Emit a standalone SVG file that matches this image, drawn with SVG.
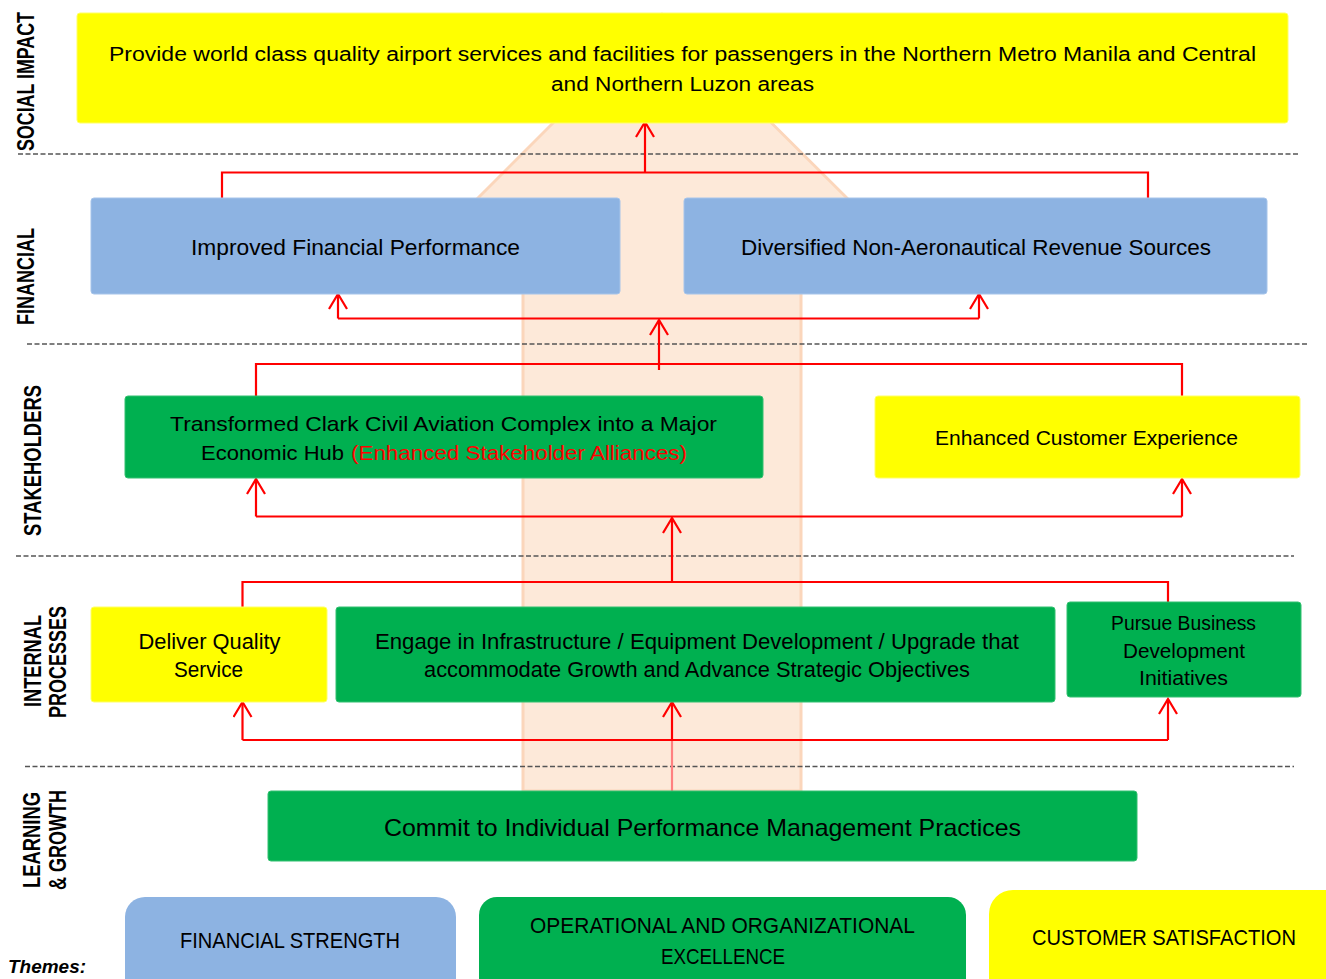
<svg xmlns="http://www.w3.org/2000/svg" width="1326" height="979" viewBox="0 0 1326 979">
<defs>
<style>
.t{font-family:"Liberation Sans",Arial,sans-serif;fill:#000;text-anchor:middle}
.lb{font-family:"Liberation Sans",Arial,sans-serif;font-weight:bold;fill:#000;text-anchor:middle;font-size:18px}
.dash{stroke:#555;stroke-width:1.3;stroke-dasharray:5 2.5;fill:none}
.c{stroke:#ff0000;stroke-width:2.2;fill:none}
.y{fill:#ffff00;stroke:#ffff66;stroke-width:1}
.b{fill:#8db3e2;stroke:#a6c4ea;stroke-width:1}
.g{fill:#00b050;stroke:#33c070;stroke-width:1}
</style>
<marker id="ah" markerUnits="userSpaceOnUse" viewBox="0 0 18 20" markerWidth="18" markerHeight="20" refX="16" refY="10" orient="auto">
<path d="M1,1 L16,10 L1,19" fill="none" stroke="#ff0000" stroke-width="2.2"/>
</marker>
</defs>
<rect width="1326" height="979" fill="#ffffff"/>

<g id="background-arrow">
<polygon points="523,791 523,215 461,215 662,14 864,215 801,215 801,791" fill="#fde9d9" stroke="#fbd6bb" stroke-width="3" stroke-linejoin="round"/>
</g>

<g id="dividers">
<line class="dash" x1="18" y1="154" x2="1298" y2="154"/>
<line class="dash" x1="27" y1="344" x2="1309" y2="344"/>
<line class="dash" x1="16" y1="556" x2="1294" y2="556"/>
<line class="dash" x1="25" y1="766.5" x2="1294" y2="766.5"/>
</g>

<g id="perspective-labels">
<text class="lb" transform="translate(33.5,81.5) rotate(-90) scale(1,1.34)" textLength="139" lengthAdjust="spacingAndGlyphs">SOCIAL IMPACT</text>
<text class="lb" transform="translate(33.5,276.5) rotate(-90) scale(1,1.34)" textLength="97" lengthAdjust="spacingAndGlyphs">FINANCIAL</text>
<text class="lb" transform="translate(41,460.5) rotate(-90) scale(1,1.34)" textLength="151" lengthAdjust="spacingAndGlyphs">STAKEHOLDERS</text>
<text class="lb" transform="translate(40.5,661) rotate(-90) scale(1,1.34)" textLength="92" lengthAdjust="spacingAndGlyphs">INTERNAL</text>
<text class="lb" transform="translate(66,662) rotate(-90) scale(1,1.34)" textLength="112" lengthAdjust="spacingAndGlyphs">PROCESSES</text>
<text class="lb" transform="translate(40,840) rotate(-90) scale(1,1.34)" textLength="96" lengthAdjust="spacingAndGlyphs">LEARNING</text>
<text class="lb" transform="translate(66,840) rotate(-90) scale(1,1.34)" textLength="100" lengthAdjust="spacingAndGlyphs">&amp; GROWTH</text>
</g>

<g id="connectors">
<polyline class="c" points="222,198 222,172.5 1148,172.5 1148,198"/>
<line class="c" x1="645" y1="172.5" x2="645" y2="122" marker-end="url(#ah)"/>
<polyline class="c" points="256,396 256,364 1182,364 1182,396"/>
<line class="c" x1="659" y1="370" x2="659" y2="320" marker-end="url(#ah)"/>
<line class="c" x1="338" y1="318.5" x2="979" y2="318.5"/>
<line class="c" x1="338" y1="318.5" x2="338" y2="294" marker-end="url(#ah)"/>
<line class="c" x1="979" y1="318.5" x2="979" y2="294" marker-end="url(#ah)"/>
<polyline class="c" points="242.5,607 242.5,582 1168,582 1168,602"/>
<line class="c" x1="672" y1="582" x2="672" y2="518" marker-end="url(#ah)"/>
<line class="c" x1="256" y1="516.5" x2="1182" y2="516.5"/>
<line class="c" x1="256" y1="516.5" x2="256" y2="479" marker-end="url(#ah)"/>
<line class="c" x1="1182" y1="516.5" x2="1182" y2="479" marker-end="url(#ah)"/>
<line x1="672" y1="791" x2="672" y2="740" stroke="#ff8080" stroke-width="2.2"/>
<line class="c" x1="242.5" y1="740" x2="1168" y2="740"/>
<line class="c" x1="242.5" y1="740" x2="242.5" y2="702" marker-end="url(#ah)"/>
<line class="c" x1="672" y1="740" x2="672" y2="702" marker-end="url(#ah)"/>
<line class="c" x1="1168" y1="740" x2="1168" y2="699" marker-end="url(#ah)"/>
</g>

<g id="social-impact">
<rect class="y" x="77" y="13" width="1211" height="110" rx="3"/>
<text class="t" x="682.5" y="61" font-size="20" textLength="1147" lengthAdjust="spacingAndGlyphs">Provide world class quality airport services and facilities for passengers in the Northern Metro Manila and Central</text>
<text class="t" x="682.5" y="91" font-size="20" textLength="263" lengthAdjust="spacingAndGlyphs">and Northern Luzon areas</text>
</g>

<g id="improved-financial">
<rect class="b" x="91" y="198" width="529" height="96" rx="3"/>
<text class="t" x="355.5" y="255" font-size="22" textLength="329" lengthAdjust="spacingAndGlyphs">Improved Financial Performance</text>
</g>

<g id="diversified-revenue">
<rect class="b" x="684" y="198" width="583" height="96" rx="3"/>
<text class="t" x="976" y="255" font-size="22" textLength="470" lengthAdjust="spacingAndGlyphs">Diversified Non-Aeronautical Revenue Sources</text>
</g>

<g id="transformed-clark">
<rect class="g" x="125" y="396" width="638" height="82" rx="3"/>
<text class="t" x="443.5" y="431" font-size="21" textLength="547" lengthAdjust="spacingAndGlyphs">Transformed Clark Civil Aviation Complex into a Major</text>
<text class="t" x="201" y="460" font-size="21" style="text-anchor:start" textLength="143" lengthAdjust="spacingAndGlyphs">Economic Hub</text>
<text class="t" x="351" y="460" font-size="21" style="text-anchor:start;fill:#ff0000" textLength="336" lengthAdjust="spacingAndGlyphs">(Enhanced Stakeholder Alliances)</text>
</g>

<g id="customer-experience">
<rect class="y" x="875" y="396" width="425" height="82" rx="3"/>
<text class="t" x="1086.5" y="445" font-size="21" textLength="303" lengthAdjust="spacingAndGlyphs">Enhanced Customer Experience</text>
</g>

<g id="deliver-quality">
<rect class="y" x="91" y="607" width="236" height="95" rx="3"/>
<text class="t" x="209.5" y="649" font-size="22" textLength="142" lengthAdjust="spacingAndGlyphs">Deliver Quality</text>
<text class="t" x="208.5" y="677" font-size="22" textLength="69" lengthAdjust="spacingAndGlyphs">Service</text>
</g>

<g id="engage-infrastructure">
<rect class="g" x="336" y="607" width="719" height="95" rx="3"/>
<text class="t" x="697" y="649" font-size="22" textLength="644" lengthAdjust="spacingAndGlyphs">Engage in Infrastructure / Equipment Development / Upgrade that</text>
<text class="t" x="697" y="677" font-size="22" textLength="546" lengthAdjust="spacingAndGlyphs">accommodate Growth and Advance Strategic Objectives</text>
</g>

<g id="pursue-business">
<rect class="g" x="1067" y="602" width="234" height="95" rx="3"/>
<text class="t" x="1183.5" y="630" font-size="20" textLength="145" lengthAdjust="spacingAndGlyphs">Pursue Business</text>
<text class="t" x="1184" y="658" font-size="20" textLength="122" lengthAdjust="spacingAndGlyphs">Development</text>
<text class="t" x="1183.5" y="685" font-size="20" textLength="89" lengthAdjust="spacingAndGlyphs">Initiatives</text>
</g>

<g id="commit-performance">
<rect class="g" x="268" y="791" width="869" height="70" rx="3"/>
<text class="t" x="702.5" y="836" font-size="24" textLength="637" lengthAdjust="spacingAndGlyphs">Commit to Individual Performance Management Practices</text>
</g>

<g id="theme-financial">
<rect x="125" y="897" width="331" height="110" rx="20" fill="#8db3e2"/>
<text class="t" x="290" y="948" font-size="22" textLength="220" lengthAdjust="spacingAndGlyphs">FINANCIAL STRENGTH</text>
</g>

<g id="theme-operational">
<rect x="479" y="897" width="487" height="110" rx="18" fill="#00b050"/>
<text class="t" x="722.5" y="933" font-size="22" textLength="385" lengthAdjust="spacingAndGlyphs">OPERATIONAL AND ORGANIZATIONAL</text>
<text class="t" x="723" y="964" font-size="22" textLength="124" lengthAdjust="spacingAndGlyphs">EXCELLENCE</text>
</g>

<g id="theme-customer">
<rect x="989" y="890" width="360" height="120" rx="24" fill="#ffff00"/>
<text class="t" x="1164" y="945" font-size="22" textLength="264" lengthAdjust="spacingAndGlyphs">CUSTOMER SATISFACTION</text>
</g>

<g id="themes-label">
<text x="8" y="973" font-family="'Liberation Sans',Arial,sans-serif" font-weight="bold" font-style="italic" font-size="19" fill="#000" textLength="78" lengthAdjust="spacingAndGlyphs">Themes:</text>
</g>
</svg>
